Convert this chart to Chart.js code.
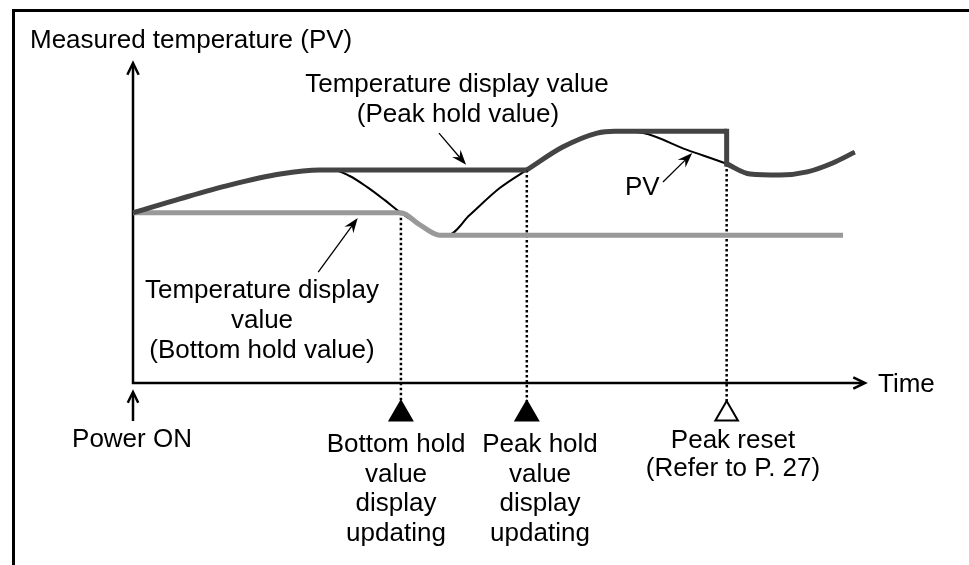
<!DOCTYPE html>
<html>
<head>
<meta charset="utf-8">
<script src="https://cdn.jsdelivr.net/npm/chart.js@4.4.1/dist/chart.umd.min.js"></script>
<style>
  html, body { margin: 0; padding: 0; background: #fff; }
  canvas { display: block; }
</style>
</head>
<body>
<canvas id="chart" width="969" height="565"></canvas>
<script>
// Time runs 0..100 along the horizontal axis, temperature 0..100 up the vertical one.

// Measured temperature (PV)
const pvTime = [0, 6.4, 13.3, 20.1, 25.5, 27.3, 29.6, 32.0, 34.4, 36.6, 39.2, 41.9, 43.0, 46.0, 50.1, 53.8,
  58.7, 63.4, 65.8, 69.7, 75.7, 81.1, 84.3, 88.4, 92.1, 95.6, 98.6];
const pvTemp = [53.5, 57.9, 62.3, 65.7, 67.0, 67.0, 65.1, 61.6, 57.5, 53.5, 49.7, 46.5, 46.5, 52.8, 61.3, 67.0,
  74.2, 78.6, 79.2, 78.6, 73.3, 68.9, 65.7, 65.4, 66.4, 69.2, 72.6];

// Peak hold display value, split where it stops/starts tracking PV
const peakTime1 = [0, 6.4, 13.3, 20.1, 25.5, 53.8];
const peakTemp1 = [53.5, 57.9, 62.3, 65.7, 67.0, 67.0];
const peakTime2 = [53.8, 58.7, 63.4, 65.8, 81.1];
const peakTemp2 = [67.0, 74.2, 78.6, 79.2, 79.2];
const resetTime = [81.1, 81.1];
const resetTemp = [79.2, 68.9];
const peakTime3 = [81.1, 84.3, 88.4, 92.1, 95.6, 98.6];
const peakTemp3 = [68.9, 65.7, 65.4, 66.4, 69.2, 72.6];

// Bottom hold display value
const bottomTime = [0, 36.6, 39.2, 41.9, 97.0];
const bottomTemp = [53.5, 53.5, 49.7, 46.5, 46.5];

// Update events: bottom hold update, peak hold update, peak reset
const eventTime = [36.6, 53.8, 81.1];
const eventTemp = [53.5, 67.0, 68.9];
const markerTop = -5.7;
const markerTemp = -9.75;

const pts = (xs, ys) => xs.map((x, i) => ({ x, y: ys[i] }));

const FONT = '26px "Liberation Sans", Arial, Helvetica, sans-serif';

const labels = [
  ['Measured temperature (PV)', 30, 48, 'left'],
  ['Temperature display value', 457, 92, 'center'],
  ['(Peak hold value)', 458, 122, 'center'],
  ['Temperature display', 262, 298, 'center'],
  ['value', 262, 328, 'center'],
  ['(Bottom hold value)', 262, 358, 'center'],
  ['PV', 625, 195, 'left'],
  ['Time', 878, 392, 'left'],
  ['Power ON', 132, 447, 'center'],
  ['Bottom hold', 396, 452, 'center'],
  ['value', 396, 481.5, 'center'],
  ['display', 396, 511, 'center'],
  ['updating', 396, 540.5, 'center'],
  ['Peak hold', 540, 452, 'center'],
  ['value', 540, 481.5, 'center'],
  ['display', 540, 511, 'center'],
  ['updating', 540, 540.5, 'center'],
  ['Peak reset', 733, 448, 'center'],
  ['(Refer to P. 27)', 733, 476, 'center'],
];

// pointer arrows [tailTime, tailTemp, tipTime, tipTemp]
const pointers = [
  [41.8, 78.6, 45.5, 68.6],
  [25.3, 34.9, 30.7, 51.9],
  [72.4, 63.2, 76.4, 72.3],
];

function chevron(ctx, x, y, ang, len, spread) {
  ctx.beginPath();
  ctx.moveTo(x - len * Math.cos(ang - spread), y - len * Math.sin(ang - spread));
  ctx.lineTo(x, y);
  ctx.lineTo(x - len * Math.cos(ang + spread), y - len * Math.sin(ang + spread));
  ctx.stroke();
}

function pointer(ctx, x0, y0, x1, y1) {
  const ang = Math.atan2(y1 - y0, x1 - x0);
  const len = 15, half = 5.5, notch = 10;
  const bx = x1 - len * Math.cos(ang), by = y1 - len * Math.sin(ang);
  ctx.lineWidth = 1.3;
  ctx.beginPath();
  ctx.moveTo(x0, y0);
  ctx.lineTo(x1 - notch * Math.cos(ang), y1 - notch * Math.sin(ang));
  ctx.stroke();
  ctx.beginPath();
  ctx.moveTo(x1, y1);
  ctx.lineTo(bx - half * Math.sin(ang), by + half * Math.cos(ang));
  ctx.lineTo(x1 - notch * Math.cos(ang), y1 - notch * Math.sin(ang));
  ctx.lineTo(bx + half * Math.sin(ang), by - half * Math.cos(ang));
  ctx.closePath();
  ctx.fill();
}

const diagram = {
  id: 'diagram',
  beforeDatasetsDraw(chart) {
    const { ctx, scales: { x, y } } = chart;
    ctx.save();
    ctx.strokeStyle = '#000';
    ctx.lineCap = 'butt';

    // frame
    ctx.lineWidth = 3;
    ctx.beginPath();
    ctx.moveTo(13.5, 565);
    ctx.lineTo(13.5, 10.5);
    ctx.lineTo(969, 10.5);
    ctx.stroke();

    // axes with open arrowheads
    const x0 = x.getPixelForValue(0), y0 = y.getPixelForValue(0);
    const xEnd = x.getPixelForValue(100), yEnd = y.getPixelForValue(100) - 2;
    ctx.lineWidth = 2.5;
    ctx.beginPath();
    ctx.moveTo(x0, yEnd + 1);
    ctx.lineTo(x0, y0);
    ctx.lineTo(xEnd - 1, y0);
    ctx.stroke();
    ctx.lineJoin = 'miter';
    chevron(ctx, x0, yEnd, -Math.PI / 2, 13, 0.45);
    chevron(ctx, xEnd, y0, 0, 13, 0.45);

    // power on arrow
    ctx.beginPath();
    ctx.moveTo(x0, 421);
    ctx.lineTo(x0, 393);
    ctx.stroke();
    chevron(ctx, x0, 392, -Math.PI / 2, 12, 0.45);
    ctx.restore();
  },
  afterDatasetsDraw(chart) {
    const { ctx, scales: { x, y } } = chart;
    ctx.save();
    ctx.fillStyle = '#000';
    ctx.strokeStyle = '#000';
    pointers.forEach(([t0, v0, t1, v1]) => {
      pointer(ctx, x.getPixelForValue(t0), y.getPixelForValue(v0), x.getPixelForValue(t1), y.getPixelForValue(v1));
    });
    ctx.font = FONT;
    ctx.textBaseline = 'alphabetic';
    labels.forEach(([text, lx, ly, align]) => {
      ctx.textAlign = align;
      ctx.fillText(text, lx, ly);
    });
    ctx.restore();
  }
};

const lineStyle = (color, width) => ({
  showLine: true,
  borderColor: color,
  borderWidth: width,
  pointRadius: 0,
  fill: false,
  clip: false,
  cubicInterpolationMode: 'monotone',
});

const dotted = eventTime.map((t, i) => ({
  data: [{ x: t, y: eventTemp[i] }, { x: t, y: markerTop }],
  showLine: true,
  borderColor: '#000',
  borderWidth: 2.5,
  borderDash: [2.5, 2.5],
  pointRadius: 0,
  clip: false,
}));

new Chart(document.getElementById('chart'), {
  type: 'scatter',
  data: {
    datasets: [
      {
        label: 'Events',
        data: eventTime.map(t => ({ x: t, y: markerTemp })),
        pointStyle: 'triangle',
        pointRadius: 13,
        backgroundColor: ['#000', '#000', '#fff'],
        borderColor: '#000',
        borderWidth: 2,
        clip: false,
      },
      { label: 'Peak hold', data: pts(peakTime1, peakTemp1), ...lineStyle('#444444', 5) },
      { label: 'Peak hold', data: pts(peakTime2, peakTemp2), ...lineStyle('#444444', 5) },
      { label: 'Peak reset', data: pts(resetTime, resetTemp), ...lineStyle('#444444', 5),
        cubicInterpolationMode: 'default', tension: 0, borderCapStyle: 'square' },
      { label: 'Peak hold', data: pts(peakTime3, peakTemp3), ...lineStyle('#444444', 5) },
      { label: 'Bottom hold', data: pts(bottomTime, bottomTemp), ...lineStyle('#999999', 5) },
      { label: 'PV', data: pts(pvTime, pvTemp), ...lineStyle('#000000', 2) },
      ...dotted,
    ]
  },
  options: {
    responsive: false,
    animation: false,
    events: [],
    // y runs down to -15 so the event markers sit inside the plot area
    layout: { padding: { left: 133, right: 104, top: 65, bottom: 134.3 } },
    scales: {
      x: { type: 'linear', min: 0, max: 100, display: false },
      y: { type: 'linear', min: -15, max: 100, display: false },
    },
    plugins: { legend: { display: false }, tooltip: { enabled: false } },
  },
  plugins: [diagram],
});
</script>
</body>
</html>
